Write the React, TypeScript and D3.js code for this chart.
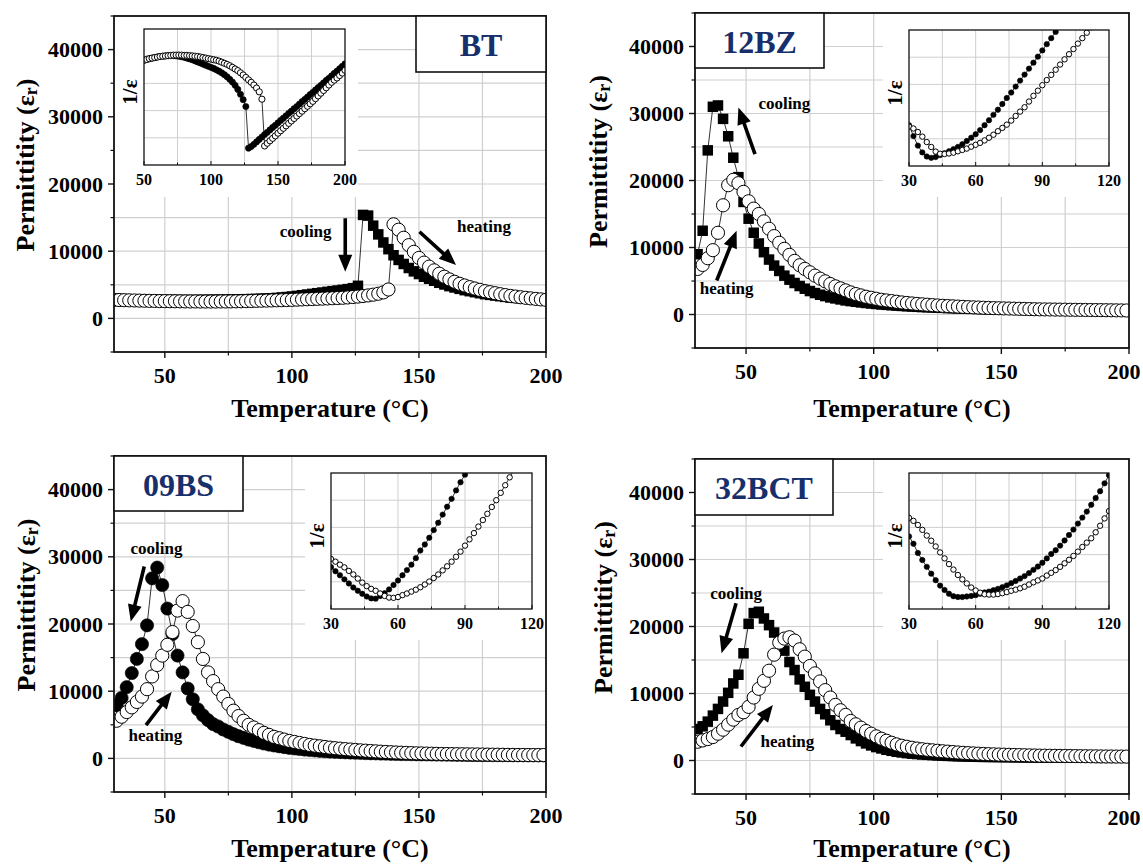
import React, { useRef, useEffect } from "react";
import * as d3 from "d3";

// temperature grids (°C)
const tempsEven = [30, 32, 34, 36, 38, 40, 42, 44, 46, 48, 50, 52, 54, 56, 58, 60, 62, 64, 66, 68,
  70, 72, 74, 76, 78, 80, 82, 84, 86, 88, 90, 92, 94, 96, 98, 100, 102, 104, 106, 108,
  110, 112, 114, 116, 118, 120, 122, 124, 126, 128, 130, 132, 134, 136, 138, 140, 142, 144, 146, 148,
  150, 152, 154, 156, 158, 160, 162, 164, 166, 168, 170, 172, 174, 176, 178, 180, 182, 184, 186, 188,
  190, 192, 194, 196, 198, 200];
const tempsOdd = [31, 33, 35, 37, 39, 41, 43, 45, 47, 49, 51, 53, 55, 57, 59, 61, 63, 65, 67, 69,
  71, 73, 75, 77, 79, 81, 83, 85, 87, 89, 91, 93, 95, 97, 99, 101, 103, 105, 107, 109,
  111, 113, 115, 117, 119, 121, 123, 125, 127, 129, 131, 133, 135, 137, 139, 141, 143, 145, 147, 149,
  151, 153, 155, 157, 159, 161, 163, 165, 167, 169, 171, 173, 175, 177, 179, 181, 183, 185, 187, 189,
  191, 193, 195, 197, 199];
const insetTemps = [30, 32, 34, 36, 38, 40, 42, 44, 46, 48, 50, 52, 54, 56, 58, 60, 62, 64, 66, 68,
  70, 72, 74, 76, 78, 80, 82, 84, 86, 88, 90, 92, 94, 96, 98, 100, 102, 104, 106, 108,
  110, 112, 114, 116, 118, 120];
const insetTempsBT = [50, 52, 54, 56, 58, 60, 62, 64, 66, 68, 70, 72, 74, 76, 78, 80, 82, 84, 86, 88,
  90, 92, 94, 96, 98, 100, 102, 104, 106, 108, 110, 112, 114, 116, 118, 120, 122, 124, 126, 128,
  130, 132, 134, 136, 138, 140, 142, 144, 146, 148, 150, 152, 154, 156, 158, 160, 162, 164, 166, 168,
  170, 172, 174, 176, 178, 180, 182, 184, 186, 188, 190, 192, 194, 196, 198, 200];

// permittivity, thousands
const btHeating = [2.75, 2.73, 2.71, 2.69, 2.67, 2.65, 2.63, 2.61, 2.6, 2.58,
  2.57, 2.56, 2.55, 2.54, 2.53, 2.52, 2.52, 2.51, 2.51, 2.51,
  2.51, 2.52, 2.52, 2.53, 2.54, 2.55, 2.57, 2.59, 2.61, 2.63,
  2.65, 2.67, 2.69, 2.71, 2.73, 2.76, 2.79, 2.82, 2.85, 2.88,
  2.91, 2.94, 2.97, 3.0, 3.03, 3.07, 3.12, 3.18, 3.25, 3.33,
  3.42, 3.53, 3.67, 3.87, 4.3, 14.0, 13.2, 12.0, 10.9, 9.9,
  9.0, 8.3, 7.7, 7.15, 6.65, 6.2, 5.8, 5.45, 5.15, 4.9,
  4.65, 4.45, 4.25, 4.05, 3.9, 3.75, 3.6, 3.47, 3.35, 3.25,
  3.15, 3.06, 2.98, 2.9, 2.83, 2.76];
const btCooling = [2.9, 2.88, 2.86, 2.84, 2.82, 2.8, 2.79, 2.78, 2.77, 2.76,
  2.75, 2.75, 2.74, 2.74, 2.74, 2.74, 2.75, 2.75, 2.76, 2.77,
  2.78, 2.79, 2.8, 2.81, 2.82, 2.84, 2.86, 2.88, 2.9, 2.93,
  2.96, 3.0, 3.05, 3.11, 3.18, 3.26, 3.35, 3.45, 3.55, 3.65,
  3.75, 3.85, 3.95, 4.05, 4.15, 4.25, 4.36, 4.5, 4.85, 15.4,
  15.3, 13.8, 12.5, 11.3, 10.3, 9.4, 8.7, 8.1, 7.5, 7.0,
  6.6, 6.2, 5.9, 5.6, 5.3, 5.05, 4.8, 4.6, 4.4, 4.2,
  4.05, 3.9, 3.75, 3.6, 3.5, 3.4, 3.3, 3.2, 3.1, 3.05,
  3.0, 2.95, 2.9, 2.85, 2.8, 2.75];

const bzHeating = [6.8, 7.4, 8.4, 9.6, 12.2, 16.3, 19.3, 20.1, 19.6, 18.3,
  16.9, 15.8, 15.0, 13.9, 12.8, 11.7, 10.7, 9.8, 8.9, 8.0,
  7.35, 6.8, 6.3, 5.8, 5.35, 4.95, 4.55, 4.2, 3.9, 3.6,
  3.3, 3.05, 2.85, 2.65, 2.5, 2.35, 2.2, 2.1, 2.0, 1.9,
  1.8, 1.72, 1.65, 1.58, 1.52, 1.46, 1.4, 1.35, 1.3, 1.26,
  1.22, 1.18, 1.14, 1.1, 1.07, 1.04, 1.01, 0.98, 0.95, 0.93,
  0.91, 0.89, 0.87, 0.85, 0.83, 0.81, 0.79, 0.77, 0.76, 0.75,
  0.74, 0.73, 0.72, 0.71, 0.7, 0.69, 0.68, 0.67, 0.66, 0.65,
  0.64, 0.63, 0.62, 0.61, 0.6];
const bzCooling = [9.0, 12.5, 24.5, 31.0, 31.2, 29.2, 26.6, 23.4, 20.5, 16.8,
  14.3, 12.2, 10.6, 9.3, 8.2, 7.3, 6.5, 5.8, 5.2, 4.7,
  4.25, 3.85, 3.5, 3.2, 2.95, 2.75, 2.55, 2.4, 2.25, 2.1,
  2.0, 1.9, 1.8, 1.72, 1.64, 1.57, 1.5, 1.44, 1.38, 1.33,
  1.28, 1.23, 1.19, 1.15, 1.11, 1.08, 1.05, 1.02, 0.99, 0.96,
  0.94, 0.91, 0.89, 0.87, 0.85, 0.83, 0.81, 0.79, 0.77, 0.76,
  0.74, 0.73, 0.72, 0.7, 0.69, 0.68, 0.67, 0.66, 0.65, 0.64,
  0.63, 0.62, 0.61, 0.6, 0.59, 0.58, 0.57, 0.56, 0.55, 0.54,
  0.53, 0.52, 0.51, 0.5, 0.5];

const bsHeating = [5.6, 6.2, 6.9, 7.6, 8.4, 9.2, 10.3, 12.2, 13.9, 15.3,
  16.9, 18.8, 22.0, 23.4, 21.8, 19.7, 17.3, 14.8, 12.8, 11.5,
  10.3, 9.2, 8.1, 7.1, 6.3, 5.6, 5.0, 4.6, 4.2, 3.8,
  3.5, 3.2, 3.0, 2.8, 2.6, 2.45, 2.3, 2.15, 2.0, 1.9,
  1.8, 1.7, 1.6, 1.52, 1.45, 1.38, 1.32, 1.26, 1.2, 1.15,
  1.1, 1.05, 1.0, 0.96, 0.92, 0.88, 0.85, 0.82, 0.79, 0.76,
  0.74, 0.72, 0.7, 0.68, 0.66, 0.65, 0.64, 0.63, 0.62, 0.61,
  0.6, 0.59, 0.58, 0.57, 0.56, 0.55, 0.54, 0.53, 0.52, 0.51,
  0.51, 0.5, 0.5, 0.5, 0.5];
const bsCooling = [7.9, 9.0, 10.6, 12.7, 14.8, 17.0, 19.8, 26.8, 28.4, 25.8,
  22.3, 18.5, 15.3, 12.8, 10.4, 8.8, 7.3, 6.4, 5.7, 5.1,
  4.75, 4.3, 3.95, 3.6, 3.3, 3.05, 2.8, 2.6, 2.4, 2.22,
  2.06, 1.92, 1.8, 1.68, 1.57, 1.48, 1.4, 1.32, 1.25, 1.19,
  1.12, 1.07, 1.02, 0.98, 0.94, 0.9, 0.87, 0.84, 0.81, 0.78,
  0.76, 0.74, 0.72, 0.7, 0.68, 0.66, 0.64, 0.63, 0.62, 0.61,
  0.6, 0.59, 0.58, 0.57, 0.56, 0.55, 0.54, 0.53, 0.52, 0.51,
  0.5, 0.5, 0.49, 0.49, 0.48, 0.48, 0.47, 0.47, 0.46, 0.46,
  0.46, 0.45, 0.45, 0.45, 0.45];

const bctHeating = [2.8, 3.0, 3.2, 3.5, 4.0, 4.6, 5.35, 6.1, 6.8, 7.2,
  8.0, 9.4, 10.7, 11.9, 13.4, 15.8, 17.6, 18.2, 18.4, 17.9,
  16.6, 15.5, 14.1, 13.0, 11.8, 10.5, 9.4, 8.3, 7.5, 6.8,
  5.9, 5.4, 4.9, 4.4, 4.0, 3.6, 3.25, 2.95, 2.65, 2.4,
  2.2, 2.05, 1.9, 1.78, 1.68, 1.6, 1.52, 1.45, 1.38, 1.32,
  1.26, 1.2, 1.15, 1.1, 1.06, 1.02, 0.98, 0.95, 0.92, 0.89,
  0.87, 0.85, 0.83, 0.81, 0.79, 0.77, 0.75, 0.73, 0.72, 0.71,
  0.7, 0.69, 0.68, 0.67, 0.66, 0.65, 0.64, 0.63, 0.62, 0.61,
  0.6, 0.6, 0.59, 0.59, 0.58];
const bctCooling = [4.7, 5.1, 5.8, 6.7, 7.7, 8.8, 10.1, 11.5, 12.8, 16.0,
  20.4, 22.0, 22.2, 21.2, 20.2, 19.1, 17.8, 16.4, 14.7, 13.5,
  12.1, 11.0, 9.8, 8.8, 7.7, 6.9, 6.0, 5.3, 4.7, 4.3,
  3.8, 3.3, 2.9, 2.55, 2.25, 2.0, 1.8, 1.6, 1.45, 1.3,
  1.2, 1.1, 1.02, 0.96, 0.9, 0.85, 0.8, 0.76, 0.72, 0.69,
  0.66, 0.63, 0.61, 0.59, 0.57, 0.55, 0.54, 0.53, 0.52, 0.51,
  0.5, 0.49, 0.48, 0.47, 0.46, 0.46, 0.45, 0.45, 0.44, 0.44,
  0.43, 0.43, 0.42, 0.42, 0.42, 0.41, 0.41, 0.41, 0.4, 0.4,
  0.4, 0.4, 0.4, 0.4, 0.4];

// inset 1/eps, arbitrary units (0-5 full frame)
const btInvHeating = [3.85, 3.88, 3.91, 3.93, 3.95, 3.97, 3.99, 4.0, 4.01, 4.02,
  4.03, 4.04, 4.04, 4.04, 4.04, 4.03, 4.03, 4.02, 4.01, 4.0,
  3.99, 3.97, 3.95, 3.93, 3.91, 3.89, 3.87, 3.85, 3.82, 3.78,
  3.74, 3.7, 3.65, 3.59, 3.53, 3.47, 3.39, 3.31, 3.22, 3.13,
  3.04, 2.94, 2.83, 2.69, 2.42, 0.7, 0.8, 0.89, 0.98, 1.07,
  1.17, 1.26, 1.35, 1.44, 1.53, 1.62, 1.71, 1.8, 1.89, 1.98,
  2.07, 2.16, 2.25, 2.34, 2.44, 2.54, 2.64, 2.74, 2.84, 2.94,
  3.04, 3.12, 3.2, 3.29, 3.38, 3.48];
const btInvCooling = [3.85, 3.88, 3.91, 3.93, 3.95, 3.97, 3.99, 4.0, 4.01, 4.02,
  4.02, 4.02, 4.01, 4.0, 3.98, 3.96, 3.93, 3.9, 3.87, 3.83,
  3.79, 3.75, 3.71, 3.67, 3.63, 3.59, 3.55, 3.5, 3.45, 3.39,
  3.32, 3.24, 3.15, 3.05, 2.93, 2.78, 2.6, 2.4, 2.15, 0.62,
  0.68, 0.76, 0.85, 0.94, 1.03, 1.12, 1.2, 1.29, 1.38, 1.46,
  1.55, 1.64, 1.72, 1.81, 1.9, 1.98, 2.07, 2.15, 2.24, 2.33,
  2.41, 2.5, 2.59, 2.67, 2.76, 2.85, 2.93, 3.02, 3.11, 3.19,
  3.28, 3.37, 3.45, 3.54, 3.63, 3.72];

const bzInvCooling = [1.5, 1.1, 0.75, 0.5, 0.35, 0.3, 0.33, 0.4, 0.47, 0.54,
  0.62, 0.7, 0.8, 0.92, 1.04, 1.17, 1.32, 1.5, 1.68, 1.88,
  2.07, 2.28, 2.5, 2.7, 2.92, 3.14, 3.36, 3.58, 3.8, 4.02,
  4.25, 4.48, 4.7, 4.93, 5.15];
const bzInvHeating = [1.45, 1.38, 1.25, 1.08, 0.88, 0.7, 0.53, 0.45, 0.44, 0.46,
  0.49, 0.54, 0.59, 0.64, 0.71, 0.78, 0.85, 0.94, 1.04, 1.15,
  1.28, 1.4, 1.52, 1.67, 1.84, 2.0, 2.16, 2.37, 2.58, 2.77,
  2.97, 3.16, 3.35, 3.54, 3.73, 3.92, 4.11, 4.3, 4.5, 4.7,
  4.9, 5.1];

const bsInvCooling = [1.54, 1.39, 1.24, 1.09, 0.94, 0.79, 0.67, 0.56, 0.46, 0.39,
  0.38, 0.48, 0.58, 0.72, 0.88, 1.05, 1.24, 1.43, 1.63, 1.87,
  2.15, 2.37, 2.62, 2.9, 3.17, 3.47, 3.76, 4.05, 4.36, 4.66,
  4.94, 5.2, 5.45, 5.7];
const bsInvHeating = [1.84, 1.74, 1.63, 1.53, 1.4, 1.27, 1.12, 0.97, 0.84, 0.74,
  0.67, 0.57, 0.48, 0.42, 0.41, 0.44, 0.51, 0.57, 0.64, 0.71,
  0.8, 0.9, 1.01, 1.14, 1.27, 1.42, 1.57, 1.74, 1.92, 2.11,
  2.33, 2.56, 2.79, 3.03, 3.27, 3.5, 3.75, 4.0, 4.27, 4.55,
  4.84, 5.12];

const bctInvCooling = [2.67, 2.4, 2.06, 1.8, 1.55, 1.3, 1.06, 0.86, 0.7, 0.56,
  0.47, 0.44, 0.44, 0.46, 0.48, 0.51, 0.56, 0.61, 0.64, 0.69,
  0.74, 0.8, 0.87, 0.95, 1.03, 1.12, 1.21, 1.32, 1.44, 1.56,
  1.7, 1.86, 2.02, 2.16, 2.33, 2.52, 2.72, 2.92, 3.14, 3.36,
  3.58, 3.83, 4.08, 4.33, 4.62, 4.92];
const bctInvHeating = [3.35, 3.24, 3.09, 2.91, 2.7, 2.51, 2.3, 2.08, 1.86, 1.65,
  1.45, 1.25, 1.09, 0.94, 0.79, 0.68, 0.6, 0.54, 0.53, 0.53,
  0.55, 0.58, 0.62, 0.67, 0.71, 0.76, 0.82, 0.9, 0.98, 1.05,
  1.12, 1.23, 1.33, 1.43, 1.55, 1.68, 1.81, 1.95, 2.11, 2.28,
  2.44, 2.6, 2.82, 3.06, 3.33, 3.6];

const xTicks = [50, 100, 150, 200];
const xMinor = [75, 125, 175];
const yTicks = [0, 10000, 20000, 30000, 40000];
const yMinor = [-5000, 5000, 15000, 25000, 35000, 45000];

const FONT = "'Liberation Serif', 'Times New Roman', serif";
const NAVY = "#17306b";
const GRID = "#cfcfcf";
const PAGE_W = 1143;

const panels = [
  {
    id: "bt", name: "BT", frame: { x: 114, y: 16, w: 432, h: 336 }, yTitleDx: -89, xTitleDy: 56,
    temps: tempsEven, cooling: btCooling, heating: btHeating, coolShape: "square",
    box: { x: 302, y: 0, w: 130, h: 56 },
    coolText: [105.4, 12900], coolArrow: [121, 14900, 121, 6950],
    heatText: [175.6, 13650], heatArrow: [150.2, 12900, 164.6, 7940],
    inset: {
      frame: { x: 30, y: 13, w: 201, h: 136 }, bg: { x: 0, y: 0, w: 244, h: 181 },
      domain: [50, 200], ticks: [50, 100, 150, 200], grid: [75, 100, 125, 150, 175], minor: [75, 125, 175],
      temps: insetTempsBT, cooling: btInvCooling, heating: btInvHeating, r: 3.1,
    },
  },
  {
    id: "bz", name: "12BZ", frame: { x: 695, y: 13, w: 434, h: 335 }, yTitleDx: -97, xTitleDy: 60,
    temps: tempsOdd, cooling: bzCooling, heating: bzHeating, coolShape: "square",
    box: { x: 0, y: 0, w: 129, h: 55 },
    coolText: [65, 31500], coolArrow: [53.5, 23950, 47, 30900],
    heatText: [42.4, 3830], heatArrow: [38.5, 5070, 46.3, 12500],
    inset: {
      frame: { x: 214, y: 17, w: 200, h: 136 }, bg: { x: 188, y: 0, w: 246, h: 184 },
      domain: [30, 120], ticks: [30, 60, 90, 120], grid: [45, 60, 75, 90, 105], minor: [45, 75, 105],
      temps: insetTemps, cooling: bzInvCooling, heating: bzInvHeating, r: 2.7,
    },
  },
  {
    id: "bs", name: "09BS", frame: { x: 114, y: 456, w: 432, h: 336 }, yTitleDx: -88, xTitleDy: 56,
    temps: tempsOdd, cooling: bsCooling, heating: bsHeating, coolShape: "circle",
    box: { x: 0, y: 0, w: 129, h: 55 },
    coolText: [46.7, 31300], coolArrow: [41.9, 28550, 36.6, 20360],
    heatText: [46.3, 3470], heatArrow: [42.6, 4960, 52.7, 9930],
    inset: {
      frame: { x: 217, y: 17, w: 201, h: 136 }, bg: { x: 191, y: 0, w: 241, h: 184 },
      domain: [30, 120], ticks: [30, 60, 90, 120], grid: [45, 60, 75, 90, 105], minor: [45, 75, 105],
      temps: insetTemps, cooling: bsInvCooling, heating: bsInvHeating, r: 2.7,
    },
  },
  {
    id: "bct", name: "32BCT", frame: { x: 695, y: 459, w: 434, h: 335 }, yTitleDx: -92, xTitleDy: 54,
    temps: tempsOdd, cooling: bctCooling, heating: bctHeating, coolShape: "square",
    box: { x: 0, y: 0, w: 138, h: 56 },
    coolText: [46.1, 24950], coolArrow: [46.1, 23460, 40.4, 16000],
    heatText: [66.2, 2830], heatArrow: [48, 2090, 60.5, 8300],
    inset: {
      frame: { x: 214, y: 14, w: 200, h: 136 }, bg: { x: 188, y: 0, w: 246, h: 181 },
      domain: [30, 120], ticks: [30, 60, 90, 120], grid: [45, 60, 75, 90, 105], minor: [45, 75, 105],
      temps: insetTemps, cooling: bctInvCooling, heating: bctInvHeating, r: 2.7,
    },
  },
];

function arrowPath(x0, y0, x1, y1) {
  const dx = x1 - x0, dy = y1 - y0, len = Math.hypot(dx, dy);
  const ux = dx / len, uy = dy / len, nx = -uy, ny = ux;
  const head = 17, hw = 7, sw = 1.8;
  const bx = x1 - ux * head, by = y1 - uy * head;
  const pts = [
    [x0 + nx * sw, y0 + ny * sw], [bx + nx * sw, by + ny * sw], [bx + nx * hw, by + ny * hw], [x1, y1],
    [bx - nx * hw, by - ny * hw], [bx - nx * sw, by - ny * sw], [x0 - nx * sw, y0 - ny * sw],
  ];
  return "M" + pts.map((p) => p.join(",")).join("L") + "Z";
}

function drawSeries(g, temps, vals, xs, ys, shape, size, scale) {
  const pts = vals.map((v, i) => [temps[i], v * scale]);
  const line = d3.line().x((d) => xs(d[0])).y((d) => ys(d[1]));
  g.append("path").attr("d", line(pts)).attr("fill", "none").attr("stroke", "#000").attr("stroke-width", 0.8);
  if (shape === "square") {
    g.append("g").selectAll("rect").data(pts).join("rect")
      .attr("x", (d) => xs(d[0]) - size / 2).attr("y", (d) => ys(d[1]) - size / 2)
      .attr("width", size).attr("height", size).attr("fill", "#000");
  } else {
    g.append("g").selectAll("circle").data(pts).join("circle")
      .attr("cx", (d) => xs(d[0])).attr("cy", (d) => ys(d[1])).attr("r", size)
      .attr("fill", shape === "open" ? "#fff" : "#000")
      .attr("stroke", "#000").attr("stroke-width", shape === "open" ? 1 : 0.6);
  }
}

function drawInset(svg, g, p) {
  const ins = p.inset;
  const f = ins.frame;
  const ig = g.append("g").attr("transform", `translate(${f.x},${f.y})`);
  const xs = d3.scaleLinear().domain(ins.domain).range([0, f.w]);
  const ys = d3.scaleLinear().domain([0, 5]).range([f.h, 0]);
  const cid = `clip-inset-${p.id}`;
  svg.append("defs").append("clipPath").attr("id", cid)
    .append("rect").attr("width", f.w).attr("height", f.h);

  ig.append("g").selectAll("line").data(ins.grid).join("line")
    .attr("x1", (d) => xs(d)).attr("x2", (d) => xs(d)).attr("y1", 0).attr("y2", f.h)
    .attr("stroke", GRID).attr("stroke-width", 1);
  ig.append("g").selectAll("line").data([1, 2, 3, 4]).join("line")
    .attr("x1", 0).attr("x2", f.w).attr("y1", (d) => ys(d)).attr("y2", (d) => ys(d))
    .attr("stroke", GRID).attr("stroke-width", 1);

  const plot = ig.append("g").attr("clip-path", `url(#${cid})`);
  drawSeries(plot, ins.temps, ins.cooling, xs, ys, "filled", ins.r, 1);
  drawSeries(plot, ins.temps, ins.heating, xs, ys, "open", ins.r, 1);

  ig.append("rect").attr("width", f.w).attr("height", f.h)
    .attr("fill", "none").attr("stroke", "#111").attr("stroke-width", 1.3);

  ig.append("g").selectAll("line").data(ins.ticks).join("line")
    .attr("x1", (d) => xs(d)).attr("x2", (d) => xs(d)).attr("y1", f.h).attr("y2", f.h - 4)
    .attr("stroke", "#111");
  ig.append("g").selectAll("line").data(ins.minor).join("line")
    .attr("x1", (d) => xs(d)).attr("x2", (d) => xs(d)).attr("y1", f.h).attr("y2", f.h - 2.5)
    .attr("stroke", "#111");

  ig.append("g").selectAll("text").data(ins.ticks).join("text")
    .attr("x", (d) => xs(d)).attr("y", f.h + 14)
    .attr("text-anchor", "middle").attr("dominant-baseline", "central")
    .attr("font-size", 16).attr("font-weight", "bold").text((d) => d);

  ig.append("text")
    .attr("transform", `translate(-14,${f.h / 2 - 5}) rotate(-90)`)
    .attr("text-anchor", "middle").attr("dominant-baseline", "central")
    .attr("font-size", 21).attr("font-weight", "bold").text("1/ε");
}

function drawPanel(svg, p) {
  const { x, y, w, h } = p.frame;
  const g = svg.append("g").attr("transform", `translate(${x},${y})`);
  const xs = d3.scaleLinear().domain([30, 200]).range([0, w]);
  const ys = d3.scaleLinear().domain([-5000, 45000]).range([h, 0]);
  const cid = `clip-${p.id}`;
  svg.append("defs").append("clipPath").attr("id", cid)
    .append("rect").attr("width", w).attr("height", h);

  // grid
  g.append("g").selectAll("line").data([50, 75, 100, 125, 150, 175]).join("line")
    .attr("x1", (d) => xs(d)).attr("x2", (d) => xs(d)).attr("y1", 0).attr("y2", h)
    .attr("stroke", GRID).attr("stroke-width", 1.2);
  g.append("g").selectAll("line").data([0, 5000, 10000, 15000, 20000, 25000, 30000, 35000, 40000]).join("line")
    .attr("x1", 0).attr("x2", w).attr("y1", (d) => ys(d)).attr("y2", (d) => ys(d))
    .attr("stroke", GRID).attr("stroke-width", 1.2);

  // white areas behind inset and label box
  const bg = p.inset.bg;
  g.append("rect").attr("x", bg.x).attr("y", bg.y).attr("width", bg.w).attr("height", bg.h).attr("fill", "#fff");
  g.append("rect").attr("x", p.box.x).attr("y", p.box.y).attr("width", p.box.w).attr("height", p.box.h).attr("fill", "#fff");

  const plot = g.append("g").attr("clip-path", `url(#${cid})`);
  drawSeries(plot, p.temps, p.cooling, xs, ys, p.coolShape, p.coolShape === "square" ? 10.5 : 6.6, 1000);
  drawSeries(plot, p.temps, p.heating, xs, ys, "open", 6.6, 1000);

  // frame
  g.append("rect").attr("width", w).attr("height", h)
    .attr("fill", "none").attr("stroke", "#111").attr("stroke-width", 1.8);

  // ticks
  g.append("g").selectAll("line").data(xTicks).join("line")
    .attr("x1", (d) => xs(d)).attr("x2", (d) => xs(d)).attr("y1", h).attr("y2", h + 6).attr("stroke", "#111").attr("stroke-width", 1.4);
  g.append("g").selectAll("line").data(xMinor).join("line")
    .attr("x1", (d) => xs(d)).attr("x2", (d) => xs(d)).attr("y1", h).attr("y2", h + 3.5).attr("stroke", "#111").attr("stroke-width", 1.2);
  g.append("g").selectAll("line").data(yTicks).join("line")
    .attr("x1", 0).attr("x2", -6).attr("y1", (d) => ys(d)).attr("y2", (d) => ys(d)).attr("stroke", "#111").attr("stroke-width", 1.4);
  g.append("g").selectAll("line").data(yMinor).join("line")
    .attr("x1", 0).attr("x2", -3.5).attr("y1", (d) => ys(d)).attr("y2", (d) => ys(d)).attr("stroke", "#111").attr("stroke-width", 1.2);

  // keep the right-most tick label inside the page
  const maxCenter = PAGE_W - x - 19;
  g.append("g").selectAll("text").data(xTicks).join("text")
    .attr("x", (d) => Math.min(xs(d), maxCenter)).attr("y", h + 23)
    .attr("text-anchor", "middle").attr("dominant-baseline", "central")
    .attr("font-size", 22).attr("font-weight", "bold").text((d) => d);
  g.append("g").selectAll("text").data(yTicks).join("text")
    .attr("x", -11).attr("y", (d) => ys(d))
    .attr("text-anchor", "end").attr("dominant-baseline", "central")
    .attr("font-size", 22).attr("font-weight", "bold").text((d) => d);

  // axis titles
  g.append("text").attr("x", w / 2).attr("y", h + p.xTitleDy)
    .attr("text-anchor", "middle").attr("dominant-baseline", "central")
    .attr("font-size", 26).attr("font-weight", "bold").text("Temperature (°C)");
  const yt = g.append("text")
    .attr("transform", `translate(${p.yTitleDx},${h / 2 - 19}) rotate(-90)`)
    .attr("text-anchor", "middle").attr("dominant-baseline", "central")
    .attr("font-size", 26).attr("font-weight", "bold");
  yt.append("tspan").text("Permittitity (ε");
  yt.append("tspan").attr("font-size", 18).attr("dy", 6).text("r");
  yt.append("tspan").attr("dy", -6).text(")");

  // annotations
  const ann = g.append("g");
  ann.append("text").attr("x", xs(p.coolText[0])).attr("y", ys(p.coolText[1]))
    .attr("text-anchor", "middle").attr("dominant-baseline", "central")
    .attr("font-size", 17).attr("font-weight", "bold").text("cooling");
  ann.append("text").attr("x", xs(p.heatText[0])).attr("y", ys(p.heatText[1]))
    .attr("text-anchor", "middle").attr("dominant-baseline", "central")
    .attr("font-size", 17).attr("font-weight", "bold").text("heating");
  [p.coolArrow, p.heatArrow].forEach((a) => {
    ann.append("path").attr("d", arrowPath(xs(a[0]), ys(a[1]), xs(a[2]), ys(a[3]))).attr("fill", "#000");
  });

  drawInset(svg, g, p);

  // sample label box
  g.append("rect").attr("x", p.box.x).attr("y", p.box.y).attr("width", p.box.w).attr("height", p.box.h)
    .attr("fill", "#fff").attr("stroke", "#111").attr("stroke-width", 1.6);
  g.append("text").attr("x", p.box.x + p.box.w / 2).attr("y", p.box.y + p.box.h / 2 + 1)
    .attr("text-anchor", "middle").attr("dominant-baseline", "central")
    .attr("font-size", 32).attr("font-weight", "bold").attr("fill", NAVY).text(p.name);
}

export default function App() {
  const svgRef = useRef(null);
  useEffect(() => {
    const svg = d3.select(svgRef.current);
    svg.selectAll("*").remove();
    panels.forEach((p) => drawPanel(svg, p));
    return () => { svg.selectAll("*").remove(); };
  }, []);
  return (
    <svg ref={svgRef} width={1143} height={864} fontFamily={FONT}
      style={{ position: "absolute", left: 0, top: 0, background: "#fff" }} />
  );
}
